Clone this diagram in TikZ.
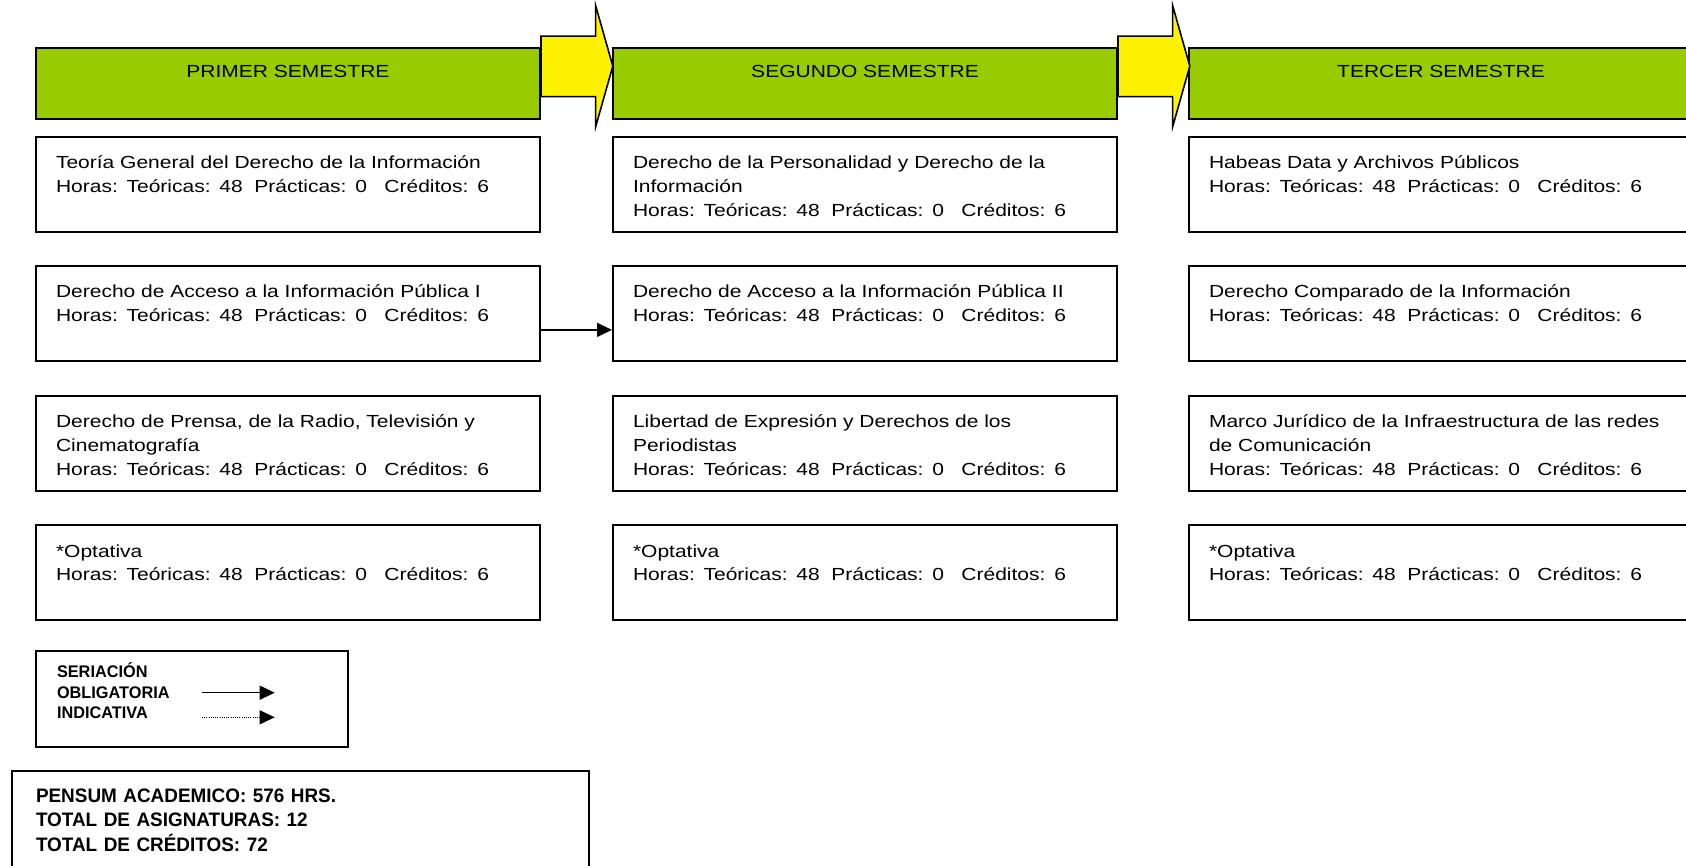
\documentclass[tikz,border=0pt]{standalone}
\usepackage{fontspec}
\setmainfont{Liberation Sans}
\newfontfamily\boxfont[FakeStretch=1.2]{Liberation Sans}
\newfontfamily\notefont[FakeStretch=0.97]{Liberation Sans Bold}
\usetikzlibrary{arrows.meta}
\definecolor{semgreen}{RGB}{153,204,0}
\newcommand{\horas}{Horas: Teóricas: 48\ \ Prácticas: 0\ \ \ Créditos: 6}

\begin{document}
\begin{tikzpicture}[x=0.5pt, y=-0.5pt,
    semester/.style={draw, line width=1pt, fill=semgreen, anchor=north west, inner sep=0pt,
        minimum width=252pt, text height=14.7pt, text depth=20.8pt, align=center,
        font=\boxfont\fontsize{8.75pt}{11.9pt}\selectfont},
    course/.style={draw, line width=1pt, anchor=north west, inner xsep=10pt, inner ysep=0pt,
        text width=232pt, align=left, text height=16pt, text depth=31.5pt,
        font=\boxfont\fontsize{8.75pt}{11.9pt}\selectfont},
    bigarrow/.style={draw, line width=0.8pt, fill=yellow},
    oblig/.style={line width=0.7pt, -{Triangle[length=7.5pt,width=7pt]}},
    indic/.style={line width=0.5pt, dash pattern=on 0.5pt off 0.6pt, -{Triangle[length=7.5pt,width=7pt]}}]
    \useasboundingbox (0,0) rectangle (1686,866);
    \clip (0,0) rectangle (1686,866);

    % semestres
    \node [semester] (h1) at (35,47.3) {PRIMER SEMESTRE};
    \node [semester] (h2) at (612,47.3) {SEGUNDO SEMESTRE};
    \node [semester] (h3) at (1188,47.3) {TERCER SEMESTRE};
    \foreach \a in {h1, h2}
        \draw [bigarrow] (\a.north east) ++(0,-11.1) -- ++(54.6,0) -- ++(0,-30.7)
            -- ++(17.2,60.6) -- ++(-17.2,60.8) -- ++(0,-30.3) -- ++(-54.6,0) -- cycle;

    % primer semestre
    \node [course] (p1) at (35,136) {Teoría General del Derecho de la Información\\ \horas};
    \node [course] (p2) at (35,265) {Derecho de Acceso a la Información Pública I\\ \horas};
    \node [course] (p3) at (35,394.5) {Derecho de Prensa, de la Radio, Televisión y\\ Cinematografía\\ \horas};
    \node [course] (p4) at (35,524) {*Optativa\\ \horas};

    % segundo semestre
    \node [course] (s1) at (612,136) {Derecho de la Personalidad y Derecho de la\\ Información\\ \horas};
    \node [course] (s2) at (612,265) {Derecho de Acceso a la Información Pública II\\ \horas};
    \node [course] (s3) at (612,394.5) {Libertad de Expresión y Derechos de los\\ Periodistas\\ \horas};
    \node [course] (s4) at (612,524) {*Optativa\\ \horas};

    % tercer semestre
    \node [course] (t1) at (1188,136) {Habeas Data y Archivos Públicos\\ \horas};
    \node [course] (t2) at (1188,265) {Derecho Comparado de la Información\\ \horas};
    \node [course] (t3) at (1188,394.5) {Marco Jurídico de la Infraestructura de las redes\\ de Comunicación\\ \horas};
    \node [course] (t4) at (1188,524) {*Optativa\\ \horas};

    \draw [oblig] ([yshift=-8.2pt]p2.east) -- ([yshift=-8.2pt]s2.west);

    % seriacion
    \node [draw, line width=1pt, anchor=north west, inner xsep=10.5pt, inner ysep=0pt,
        text width=135pt, align=left, text height=13.35pt, text depth=34.4pt,
        font=\notefont\fontsize{8.4pt}{10.2pt}\selectfont] (ser) at (35,650)
        {SERIACIÓN\\ OBLIGATORIA\\ INDICATIVA};
    \coordinate (ob1) at (201.6,692.7);
    \coordinate (ob2) at (274.7,692.7);
    \coordinate (in1) at (202,717.3);
    \coordinate (in2) at (274.7,717.3);
    \draw [oblig] (ob1) -- (ob2);
    \draw [indic] (in1) -- (in2);

    % totales
    \node [draw, line width=1pt, anchor=north west, inner xsep=12pt, inner ysep=0pt,
        text width=264.35pt, align=left, text height=15.5pt, text depth=34.5pt,
        font=\notefont\fontsize{9.75pt}{12.4pt}\selectfont] (tot) at (11,770)
        {PENSUM ACADEMICO: 576 HRS.\\ TOTAL DE ASIGNATURAS: 12\\ TOTAL DE CRÉDITOS: 72};
\end{tikzpicture}
\end{document}
